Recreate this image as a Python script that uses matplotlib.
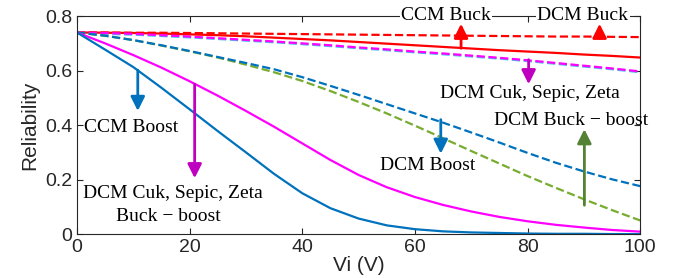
#!/usr/bin/env python3
import numpy as np
import matplotlib
matplotlib.use('Agg')
import matplotlib.pyplot as plt

# input voltage (V)
vi = [0, 5, 10, 15, 20, 25, 30, 35, 40, 45, 50, 55, 60, 65, 70, 75, 80, 85, 90, 95, 100]

# reliability curves
ccm_buck = [0.740, 0.739, 0.738, 0.736, 0.733, 0.730, 0.726, 0.721, 0.716, 0.711, 0.705,
            0.699, 0.693, 0.687, 0.681, 0.675, 0.670, 0.665, 0.659, 0.654, 0.648]
dcm_buck = [0.740, 0.740, 0.739, 0.739, 0.738, 0.737, 0.736, 0.735, 0.734, 0.733, 0.732,
            0.731, 0.730, 0.729, 0.728, 0.727, 0.726, 0.725, 0.725, 0.724, 0.723]
dcm_cuk = [0.740, 0.738, 0.735, 0.730, 0.725, 0.719, 0.713, 0.707, 0.700, 0.693, 0.685,
           0.678, 0.670, 0.663, 0.655, 0.647, 0.638, 0.628, 0.618, 0.608, 0.597]
dcm_boost = [0.740, 0.728, 0.712, 0.693, 0.672, 0.650, 0.628, 0.605, 0.576, 0.544, 0.511,
             0.477, 0.443, 0.409, 0.373, 0.336, 0.298, 0.262, 0.230, 0.201, 0.176]
dcm_buckboost = [0.740, 0.728, 0.712, 0.692, 0.671, 0.648, 0.622, 0.594, 0.562, 0.525, 0.485,
                 0.443, 0.398, 0.352, 0.305, 0.259, 0.213, 0.170, 0.128, 0.088, 0.050]
ccm_boost = [0.740, 0.677, 0.613, 0.537, 0.458, 0.378, 0.300, 0.221, 0.150, 0.095, 0.057,
             0.032, 0.018, 0.010, 0.006, 0.004, 0.002, 0.001, 0.001, 0.000, 0.000]
ccm_cuk = [0.740, 0.700, 0.657, 0.611, 0.561, 0.508, 0.452, 0.394, 0.333, 0.272, 0.217,
           0.172, 0.136, 0.107, 0.083, 0.063, 0.047, 0.034, 0.024, 0.015, 0.009]

BLUE = '#0072BD'
RED = '#FF0000'
MAG = '#FF00FF'
GREEN = '#77AC30'
CYAN = '#4DBEEE'
INK = '#262626'

fig = plt.figure(figsize=(6.81, 2.78), dpi=100)
ax = fig.add_axes([0.113, 0.158, 0.827, 0.784])

ax.plot(vi, dcm_buck, '--', color=RED, lw=1.6)
ax.plot(vi, ccm_buck, '-', color=RED, lw=1.6)
ax.plot(vi, np.array(dcm_cuk) - 0.003, '--', color=CYAN, lw=1.6)
ax.plot(vi, dcm_cuk, '--', color=MAG, lw=1.6)
ax.plot(vi, dcm_buckboost, '--', color=GREEN, lw=1.6)
ax.plot(vi, dcm_boost, '--', color=BLUE, lw=1.6)
ax.plot(vi, ccm_cuk, '-', color=MAG, lw=1.6)
ax.plot(vi, ccm_boost, '-', color=BLUE, lw=1.6)

ax.set_xlim(0, 100)
ax.set_ylim(0, 0.8)
ax.set_xticks([0, 20, 40, 60, 80, 100])
ax.set_yticks([0, 0.2, 0.4, 0.6, 0.8])
ax.set_yticklabels(['0', '0.2', '0.4', '0.6', '0.8'])
ax.tick_params(direction='in', top=True, right=True, labelsize=14, length=4, width=0.8,
               colors=INK)
for lab in ax.get_xticklabels() + ax.get_yticklabels():
    lab.set_family('Liberation Sans')
for s in ax.spines.values():
    s.set_color(INK)
    s.set_linewidth(0.8)
ax.set_xlabel('Vi (V)', fontsize=15, labelpad=0, color=INK, family='Liberation Sans')
ax.set_ylabel('Reliability', fontsize=15, labelpad=4, color=INK, family='Liberation Sans')


def arrow(x, y0, y1, color):
    ax.annotate('', xy=(x, y1), xytext=(x, y0),
                arrowprops=dict(arrowstyle='-|>,head_width=0.3,head_length=0.6',
                                color=color, lw=2, shrinkA=0, shrinkB=0,
                                mutation_scale=14))


serif = dict(family='Liberation Serif', fontsize=14, ha='center', va='center')

ax.text(65.5, 0.803, 'CCM Buck', bbox=dict(fc='white', ec='none', pad=1), **serif)
ax.text(89.8, 0.803, 'DCM Buck', bbox=dict(fc='white', ec='none', pad=1), **serif)
arrow(68.2, 0.682, 0.772, RED)
arrow(92.8, 0.718, 0.772, RED)

arrow(80.2, 0.640, 0.550, '#C000C0')
ax.text(80.5, 0.517, 'DCM Cuk, Sepic, Zeta', **serif)

ax.text(87.7, 0.418, 'DCM Buck \u2212 boost', **serif)
arrow(90.1, 0.106, 0.385, '#548235')

arrow(64.6, 0.420, 0.295, BLUE)
ax.text(62.3, 0.25, 'DCM Boost', **serif)

arrow(10.8, 0.602, 0.452, BLUE)
ax.text(9.6, 0.393, 'CCM Boost', **serif)

arrow(20.9, 0.550, 0.205, '#C000C0')
ax.text(17.1, 0.15, 'DCM Cuk, Sepic, Zeta', **serif)
ax.text(16.3, 0.064, 'Buck \u2212 boost', **serif)

fig.savefig('out.png', dpi=100)
